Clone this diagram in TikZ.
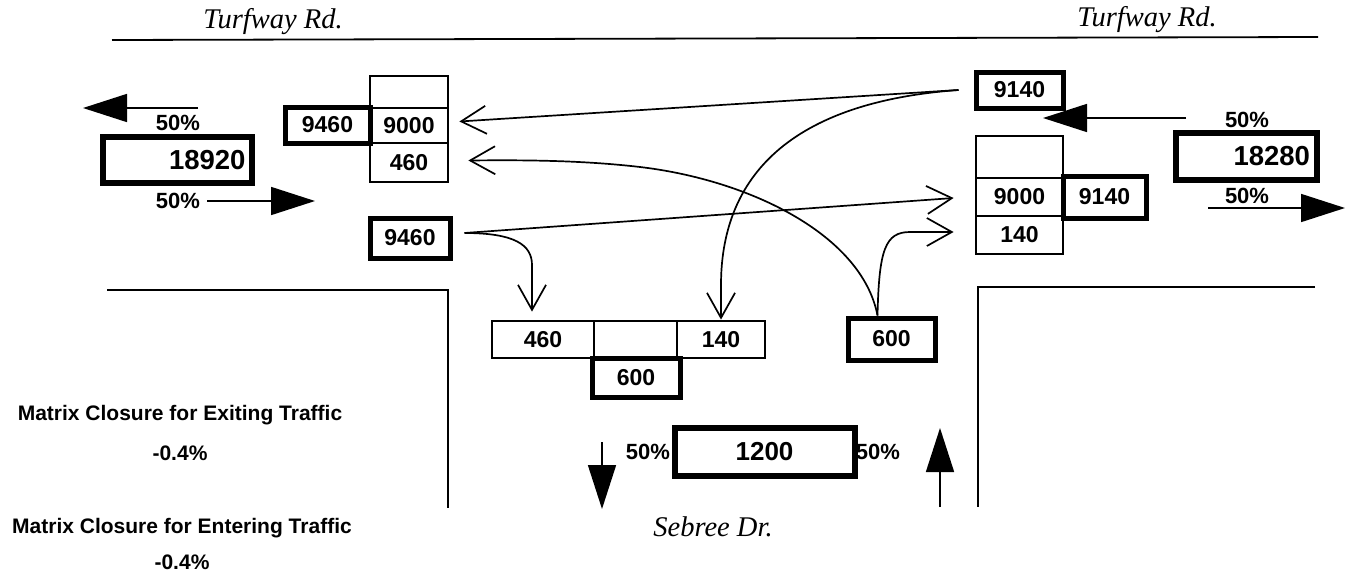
\documentclass[tikz,border=0pt]{standalone}
\usepackage{fontspec}
\setmainfont{Liberation Sans}
\newfontfamily\serifit{Liberation Serif}
\usetikzlibrary{arrows.meta}
\begin{document}
\begin{tikzpicture}[x=1pt,y=-1pt,
 numfont/.style={font=\bfseries\fontsize{23}{23}\selectfont},
 cell/.style={draw, line width=2.8pt, numfont, inner sep=0pt},
 thickbox/.style={draw, line width=5pt, numfont, inner sep=0pt},
 total/.style={draw, line width=5pt, font=\bfseries\fontsize{27.5}{27.5}\selectfont, inner sep=0pt},
 conn/.style={line width=1.7pt, -{Straight Barb[length=25pt,width=28pt,line width=1.7pt]}},
 bigarrow/.style={line width=1.6pt, -{Triangle[length=44pt,width=28pt]}},
 pct/.style={font=\bfseries\fontsize{22}{22}\selectfont, inner sep=0pt},
 road/.style={line width=1.8pt},
 street/.style={font=\serifit\itshape\fontsize{28.5}{28.5}\selectfont, inner sep=0pt},
 note/.style={font=\bfseries\fontsize{21}{21}\selectfont, inner sep=0pt},
 inner/.style={line width=0.8pt}]
\useasboundingbox[fill=white] (0,0) rectangle (1348,573);

% roads
\draw[road] (112,40) -- (1318,37);
\draw[road] (107,290) -- (448,290) -- (448,508);
\draw[road] (1315,287) -- (978,287) -- (978,507);
\node[street] (turfL) at (273,22) {Turfway Rd.};
\node[street] (turfR) at (1147,20) {Turfway Rd.};
\node[street] (sebree) at (713,527) {Sebree Dr.};

% left side totals
\draw[bigarrow] (198,108) -- (83,108);
\node[pct] (pL1) at (178,123) {50\%};
\node[total, minimum height=47pt, text width=136pt, inner xsep=7pt, align=right] (T18920) at (177.5,160) {18920};
\draw[inner] ([shift={(5.5pt,-5.5pt)}]T18920.north west) rectangle ([shift={(-5.5pt,5.5pt)}]T18920.south east);
\node[pct] (pL2) at (178,201) {50\%};
\draw[bigarrow] (207,201) -- (315,201);

% left stack
\node[cell, minimum width=78pt, minimum height=32pt] (Ltop) at (409,92) {};
\node[cell, minimum width=78pt, minimum height=35pt] (L9000) at (409,125.5) {9000};
\node[cell, minimum width=78pt, minimum height=39pt] (L460) at (409,162.5) {460};
\node[thickbox, minimum width=85pt, minimum height=36pt] (L9460) at (327.5,125) {9460};
\node[thickbox, minimum width=80pt, minimum height=40pt] (L9460b) at (410,238) {9460};

% right side
\node[thickbox, minimum width=87pt, minimum height=36pt] (R9140top) at (1019.5,90) {9140};
\draw[bigarrow] (1186,118) -- (1043,118);
\node[pct] (pR1) at (1247,120) {50\%};
\node[total, minimum height=48pt, text width=128pt, inner xsep=7pt, align=right] (T18280) at (1246,156) {18280};
\draw[inner] ([shift={(5.5pt,-5.5pt)}]T18280.north west) rectangle ([shift={(-5.5pt,5.5pt)}]T18280.south east);
\node[pct] (pR2) at (1247,196) {50\%};
\draw[bigarrow] (1208,208) -- (1345,208);

\node[cell, minimum width=87pt, minimum height=42pt] (Rtop) at (1019.5,157) {};
\node[cell, minimum width=87pt, minimum height=38pt] (R9000) at (1019.5,197) {9000};
\node[cell, minimum width=87pt, minimum height=38pt] (R140) at (1019.5,235) {140};
\node[thickbox, minimum width=83pt, minimum height=42pt] (R9140) at (1104.5,197) {9140};

% bottom row
\node[cell, minimum width=102pt, minimum height=37pt] (B460) at (543,339.5) {460};
\node[cell, minimum width=83pt, minimum height=37pt] (Bempty) at (635.5,339.5) {};
\node[cell, minimum width=88pt, minimum height=37pt] (B140) at (721,339.5) {140};
\node[thickbox, minimum width=88pt, minimum height=39pt] (B600) at (636,377.5) {600};
\node[thickbox, minimum width=87pt, minimum height=42pt] (B600r) at (891.5,339) {600};

% Sebree totals
\draw[bigarrow] (602,442) -- (602,509);
\node[pct] (pB1) at (648,452) {50\%};
\node[total, minimum width=181pt, minimum height=49pt, font=\bfseries\fontsize{26}{26}\selectfont] (T1200) at (764.5,451.5) {1200};
\draw[inner] ([shift={(5.5pt,-5.5pt)}]T1200.north west) rectangle ([shift={(-5.5pt,5.5pt)}]T1200.south east);
\node[pct] (pB2) at (878,452) {50\%};
\draw[bigarrow] (940,507) -- (940,428);

% matrix closure notes
\node[note] (mc1) at (180,415) {Matrix Closure for Exiting Traffic};
\node[note] (mc1v) at (180,453) {-0.4\%};
\node[note] (mc2) at (182,528) {Matrix Closure for Entering Traffic};
\node[note] (mc2v) at (182,562) {-0.4\%};

% connectors
\coordinate (a1) at ([xshift=-15pt]R9140top.west);
\draw[conn] (a1) -- ([xshift=10pt,yshift=4pt]L9000.east);
\draw[conn] (a1) .. controls (780,103) and (721,185) .. (721,285) -- (B140.north);
\coordinate (a3) at ([xshift=-14pt]B600r.north);
\draw[conn] (a3) .. controls (862,235) and (750,180) .. (640,167) .. controls (580,160) and (520,160) .. ([xshift=19pt,yshift=2pt]L460.east);
\draw[conn] (a3) .. controls (879,250) and (885,232) .. (910,232) -- ([xshift=-21pt,yshift=3pt]R140.west);
\coordinate (a4) at ([xshift=12pt,yshift=5pt]L9460b.east);
\draw[conn] (a4) -- ([xshift=-21pt,yshift=-1pt]R9000.west);
\draw[conn] (a4) .. controls (515,233) and (532,245) .. (532,265) -- ([xshift=-11pt,yshift=8pt]B460.north);
\end{tikzpicture}
\end{document}
